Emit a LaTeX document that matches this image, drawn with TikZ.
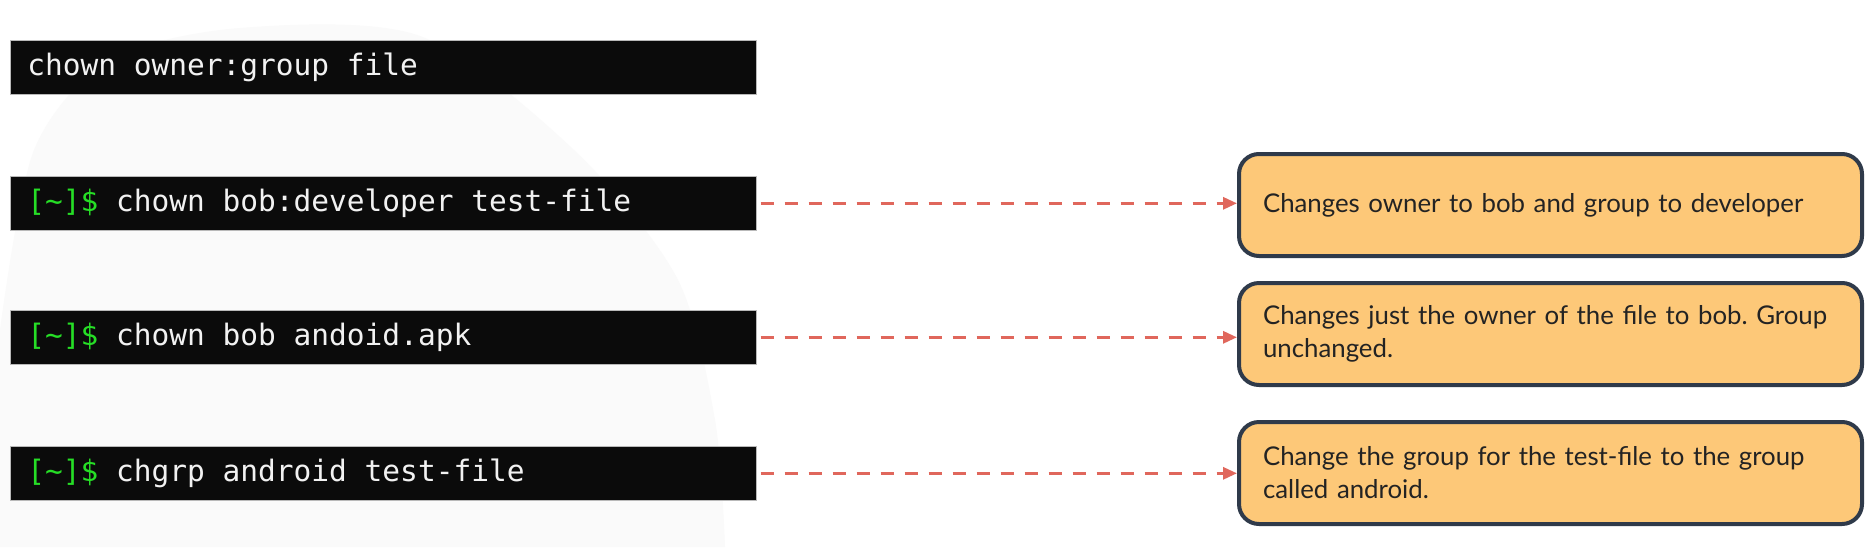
\documentclass[tikz,border=0pt]{standalone}
\usepackage{fontspec}
\setmainfont{Lato}
\newfontfamily\monofont{DejaVu Sans Mono}
\usetikzlibrary{arrows.meta}
\definecolor{termbg}{HTML}{0B0B0B}
\definecolor{termfg}{HTML}{F2F2F2}
\definecolor{promptgreen}{HTML}{26DE26}
\definecolor{notefill}{HTML}{FDC878}
\definecolor{noteline}{HTML}{2F3A4A}
\definecolor{arrowred}{HTML}{E0675C}
\definecolor{blobgray}{HTML}{FAFAFA}
\definecolor{notetext}{HTML}{232323}
\newcommand{\prm}{\textcolor{promptgreen}{[\char`\~]\$}}
\newcommand{\ms}{\hspace*{0.6021em}}
\frenchspacing
\begin{document}
\begin{tikzpicture}[x=1pt,y=-1pt,
  term/.style={fill=termbg, draw=gray!55, line width=0.6pt, anchor=north west,
    minimum width=746pt, minimum height=54pt, inner xsep=17pt, inner ysep=0pt,
    text width=712pt, align=left, text=termfg,
    font=\monofont\fontsize{29.5}{34}\selectfont},
  note/.style={fill=notefill, draw=noteline, line width=4pt, rounded corners=20pt,
    anchor=north west, minimum width=623pt, minimum height=102pt,
    inner xsep=24pt, inner ysep=0pt, text width=575pt, align=left, text=notetext,
    font=\fontsize{25.8}{33}\selectfont\frenchspacing},
  conn/.style={draw=arrowred, line width=3pt, dash pattern=on 13pt off 11pt,
    -{Triangle[length=14pt, width=12pt]}}]
\useasboundingbox (0,0) rectangle (1876,547);
\fill[white] (0,0) rectangle (1876,547);
\fill[blobgray] (0,547) -- plot[smooth] coordinates {(0,330) (34,150) (110,60) (240,28) (420,36) (574,150) (677,278) (715,420) (725,547)} -- cycle;

\node[term] (t0) at (10,40) {chown\ms owner:group\ms file};
\node[term] (t1) at (10,176) {\prm\ms chown\ms bob:developer\ms test-file};
\node[term] (t2) at (10,310) {\prm\ms chown\ms bob\ms andoid.apk};
\node[term] (t3) at (10,446) {\prm\ms chgrp\ms android\ms test-file};

\node[note] (n1) at (1237,152) {Changes owner to bob and group to developer};
\node[note] (n2) at (1237,281) {Changes just the owner of the file to bob. Group\\unchanged.};
\node[note] (n3) at (1237,420) {Change the group for the test-file to the group\\called android.};

\draw[conn] ([xshift=4pt]t1.east) -- (t1.east -| n1.west);
\draw[conn] ([xshift=4pt]t2.east) -- (t2.east -| n2.west);
\draw[conn] ([xshift=4pt]t3.east) -- (t3.east -| n3.west);
\end{tikzpicture}
\end{document}
